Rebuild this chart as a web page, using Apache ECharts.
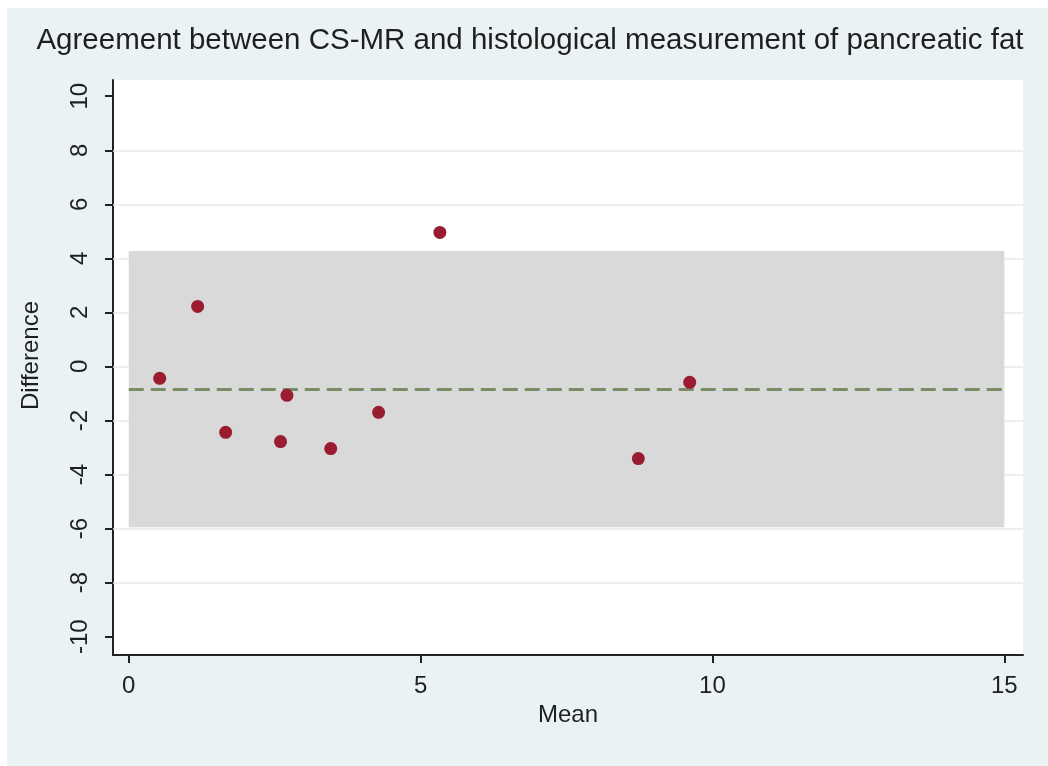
<!DOCTYPE html>
<html>
<head>
<meta charset="utf-8">
<script src="https://cdn.jsdelivr.net/npm/echarts@6/dist/echarts.min.js"></script>
<style>
    html,body{margin:0;padding:0;background:#fff}
    #chart{width:1048px;height:766px}
</style>
</head>
<body>
<div id="chart"></div>
<script>
// Bland-Altman: mean vs difference
var meanVals = [0.53, 1.18, 1.66, 2.60, 2.71, 3.46, 4.28, 5.33, 8.73, 9.61];
var diffVals = [-0.44, 2.22, -2.44, -2.78, -1.07, -3.04, -1.70, 4.96, -3.41, -0.59];
var yTicks = [-10, -8, -6, -4, -2, 0, 2, 4, 6, 8, 10];
var xTicks = [0, 5, 10, 15];
var gridVals = [-8, -6, -4, -2, 0, 2, 4, 6, 8];
var meanDiff = -0.85;
var upperLoA = 4.27;
var lowerLoA = -5.95;
var bandRange = [0, 15];

var points = [];
for (var i = 0; i < meanVals.length; i++) {
    points.push([meanVals[i], diffVals[i]]);
}
var gridLines = [];
for (var j = 0; j < gridVals.length; j++) {
    gridLines.push({yAxis: gridVals[j]});
}

var font = "'Liberation Sans', Arial, sans-serif";
var txt = '#1f1f1f';

var myChart = echarts.init(document.getElementById('chart'));
myChart.setOption({
    animation: false,
    backgroundColor: '#eaf2f3',
    textStyle: {fontFamily: font},
    graphic: [
        {type: 'rect', left: 0, top: 0, shape: {width: 1048, height: 8}, style: {fill: '#fff'}, silent: true},
        {type: 'rect', left: 0, top: 0, shape: {width: 7, height: 766}, style: {fill: '#fff'}, silent: true}
    ],
    title: {
        text: 'Agreement between CS-MR and histological measurement of pancreatic fat',
        left: 525,
        textAlign: 'center',
        top: 21,
        textStyle: {fontFamily: font, fontSize: 29.5, fontWeight: 'normal', color: txt}
    },
    grid: {
        left: 113, right: 25, top: 80, bottom: 111,
        show: true, backgroundColor: '#fff', borderWidth: 0
    },
    xAxis: {
        type: 'value',
        min: -0.27, max: 15.32,
        name: 'Mean',
        nameLocation: 'middle',
        nameGap: 44,
        nameTextStyle: {fontSize: 24, color: txt, fontFamily: font},
        axisLine: {onZero: false, lineStyle: {color: '#222', width: 2}},
        axisTick: {customValues: xTicks, length: 8, lineStyle: {color: '#222', width: 2}},
        axisLabel: {customValues: xTicks, fontSize: 24, color: txt, margin: 19, fontFamily: font},
        splitLine: {show: false}
    },
    yAxis: {
        type: 'value',
        min: -10.68, max: 10.6,
        name: 'Difference',
        nameLocation: 'middle',
        nameGap: 70,
        nameTextStyle: {fontSize: 24, color: txt, fontFamily: font, padding: [0, 0, 0, 24]},
        axisLine: {show: true, onZero: false, lineStyle: {color: '#222', width: 2}},
        axisTick: {show: true, customValues: yTicks, length: 8, lineStyle: {color: '#222', width: 2}},
        axisLabel: {customValues: yTicks, rotate: 90, fontSize: 24, color: txt, margin: 21, fontFamily: font},
        splitLine: {show: false}
    },
    series: [
        {
            // light gridlines
            type: 'line',
            data: [],
            markLine: {
                z: 1,
                silent: true,
                symbol: 'none',
                label: {show: false},
                lineStyle: {color: '#e8e8e8', width: 1.5, type: 'solid'},
                data: gridLines
            }
        },
        {
            // limits of agreement band
            type: 'line',
            data: [],
            markArea: {
                z: 2,
                silent: true,
                itemStyle: {color: '#d9d9d9', opacity: 1},
                data: [[{coord: [bandRange[0], upperLoA]}, {coord: [bandRange[1], lowerLoA]}]]
            }
        },
        {
            // mean difference
            type: 'line',
            z: 3,
            symbol: 'none',
            lineStyle: {color: '#7b8d66', width: 3, type: [15, 7]},
            data: [[bandRange[0], meanDiff], [bandRange[1], meanDiff]]
        },
        {
            type: 'scatter',
            z: 4,
            symbol: 'circle',
            symbolSize: 13,
            itemStyle: {color: '#9a1c31', opacity: 1},
            data: points
        }
    ]
});
</script>
</body>
</html>
